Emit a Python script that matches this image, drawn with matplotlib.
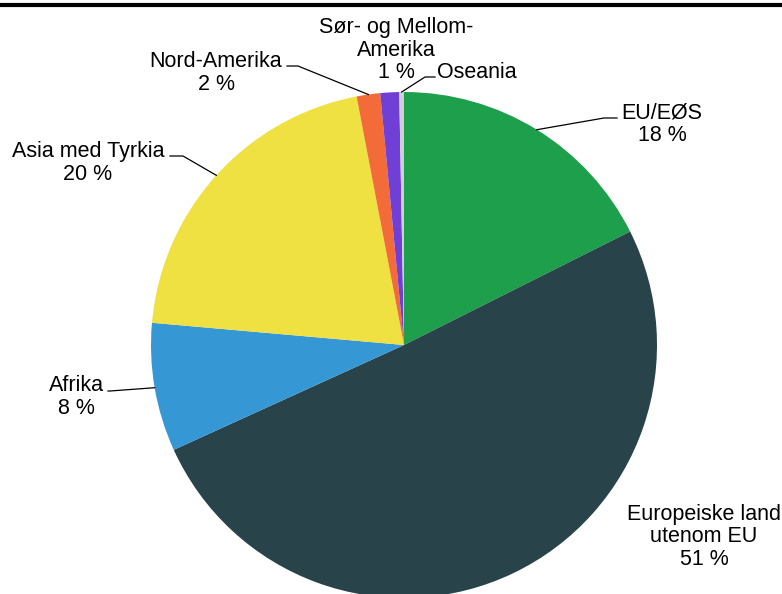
import numpy as np
import matplotlib.pyplot as plt
from matplotlib.lines import Line2D

plt.rcParams['font.family'] = ['Liberation Sans', 'DejaVu Sans']

# share of each region, clockwise from 12 o'clock
regions = ["EU/EØS", "Europeiske land\nutenom EU", "Afrika", "Asia med Tyrkia",
           "Nord-Amerika", "Sør- og Mellom-\nAmerika", "Oseania"]
shares = [17.6, 50.6, 8.2, 20.6, 1.5, 1.2, 0.3]
pct_labels = ["18 %", "51 %", "8 %", "20 %", "2 %", "1 %", None]
colors = ["#1e9f4b", "#29434a", "#3597d3", "#f0e142", "#f26b38", "#6f3fd6", "#cfcfd6"]

W, H = 782, 594
cx, cy, R = 404, H - 345, 253

fig = plt.figure(figsize=(W / 100, H / 100), dpi=100)
ax = fig.add_axes([0, 0, 1, 1])

wedges, _ = ax.pie(shares, colors=colors, startangle=90, counterclock=False,
                   center=(cx, cy), radius=R, frame=True)
ax.set_xlim(0, W)
ax.set_ylim(0, H)
ax.set_aspect('equal')
ax.axis('off')

# label layout: text x, text y (block centre), leader y, elbow x, text-edge x
layout = [
    (662, H - 124, H - 118, 604, 617),
    (704, H - 537, None, None, None),
    (76, H - 397, H - 391, 110, 108),
    (88, H - 163, H - 156, 183, 170),
    (216, H - 73, H - 66, 298, 287),
    (396, H - 50, None, None, None),
    (437, H - 72, H - 77, 425, 435),
]

for i, w in enumerate(wedges):
    name = regions[i]
    txt = name if pct_labels[i] is None else name + "\n" + pct_labels[i]
    tx, ty, ly, ex, edge = layout[i]
    if i == 6:
        ax.text(tx, ty, txt, ha='left', va='center', fontsize=15.5)
    else:
        ax.text(tx, ty, txt, ha='center', va='center', fontsize=15.5,
                linespacing=1.1)
    if ly is not None:
        ang = np.deg2rad((w.theta1 + w.theta2) / 2)
        px, py = cx + R * np.cos(ang), cy + R * np.sin(ang)
        ax.plot([px, ex, edge], [py, ly, ly], color='black', lw=0.9)

fig.add_artist(Line2D([0, 1], [1 - 5 / H, 1 - 5 / H], color='black', lw=3,
                      transform=fig.transFigure))

fig.savefig("out.png", dpi=100)
